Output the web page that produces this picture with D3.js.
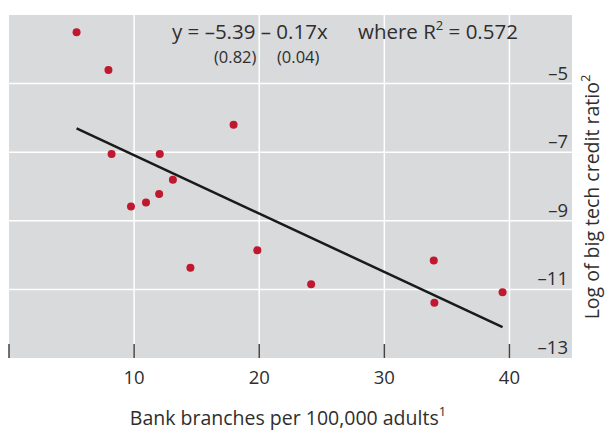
<!DOCTYPE html>
<html lang="en">

<head>
    <meta charset="UTF-8">
    <style>
        body { margin: 0; background: #fff; }
        text { font-family: "Open Sans", "Noto Sans", sans-serif; fill: #2e2e2e; }
    </style>
</head>

<body>
    <svg width="606" height="430"></svg>
    <script src="https://d3js.org/d3.v7.min.js"></script>
    <script>
        // bank branches per 100,000 adults
        let branches = [5.4, 7.95, 8.2, 12.05, 13.1, 12.0, 9.75, 10.95, 17.95, 14.5, 19.85, 24.15, 33.95, 34.0, 39.45]
        // log of big tech credit ratio
        let logRatio = [-3.5, -4.6, -7.05, -7.05, -7.8, -8.22, -8.58, -8.47, -6.2, -10.37, -9.86, -10.85, -10.16, -11.39, -11.08]
        let xTicks = [0, 10, 20, 30, 40]
        let xTickLabels = [10, 20, 30, 40]
        let yTicks = [-5, -7, -9, -11, -13]
        let intercept = -5.39, slope = -0.17
        let lineEnds = [5.4, 39.45]

        let data = branches.map((x, i) => ({ x: x, y: logRatio[i] }))

        let svg = d3.select("svg")
        let pLeft = 9, pRight = 572, pTop = 15, pBottom = 358

        let x = d3.scaleLinear().domain([0, 45]).range([pLeft, pRight])
        let y = d3.scaleLinear().domain([-13, -3]).range([pBottom, pTop])
        let minus = v => String(v).replace("-", "\u2013")

        svg.append("rect")
            .attr("x", pLeft).attr("y", pTop)
            .attr("width", pRight - pLeft).attr("height", pBottom - pTop)
            .attr("fill", "#d9dadc")

        // grid
        svg.selectAll(".vgrid")
            .data(xTickLabels).enter()
            .append("line")
            .attr("x1", d => x(d)).attr("x2", d => x(d))
            .attr("y1", pTop).attr("y2", pBottom)
            .attr("stroke", "#fff").attr("stroke-width", 1.5)

        svg.selectAll(".hgrid")
            .data(yTicks.filter(d => d > -13)).enter()
            .append("line")
            .attr("x1", pLeft).attr("x2", pRight)
            .attr("y1", d => y(d)).attr("y2", d => y(d))
            .attr("stroke", "#fff").attr("stroke-width", 1.5)

        // bottom ticks, pointing up into the plot
        svg.selectAll(".xtick")
            .data(xTicks).enter()
            .append("line")
            .attr("x1", d => x(d)).attr("x2", d => x(d))
            .attr("y1", pBottom - 14).attr("y2", pBottom)
            .attr("stroke", "#444").attr("stroke-width", 1.5)

        svg.selectAll(".xlabel")
            .data(xTickLabels).enter()
            .append("text")
            .attr("x", d => x(d)).attr("y", 384)
            .attr("text-anchor", "middle")
            .attr("font-size", 18.5)
            .text(d => d)

        svg.selectAll(".ylabel")
            .data(yTicks).enter()
            .append("text")
            .attr("x", 568).attr("y", d => y(d) - 4)
            .attr("text-anchor", "end")
            .attr("font-size", 18.5)
            .text(d => minus(d))

        // regression line
        let linefn = d3.line()
            .x(d => x(d))
            .y(d => y(intercept + slope * d))
        svg.append("path")
            .attr("d", linefn(lineEnds))
            .attr("fill", "none")
            .attr("stroke", "#1a1a1a")
            .attr("stroke-width", 2.5)

        svg.selectAll("circle")
            .data(data).enter()
            .append("circle")
            .attr("cx", d => x(d.x))
            .attr("cy", d => y(d.y))
            .attr("r", 4)
            .attr("fill", "#c0182f")

        // equation
        svg.append("text")
            .attr("x", 172).attr("y", 39)
            .attr("font-size", 20.5)
            .text("y = \u20135.39 \u2013 0.17x")
        let w = svg.append("text")
            .attr("x", 358).attr("y", 39)
            .attr("font-size", 20.5)
        w.append("tspan").text("where R")
        w.append("tspan").attr("font-size", 13).attr("dy", -9).text("2")
        w.append("tspan").attr("dy", 9).text(" = 0.572")

        svg.append("text")
            .attr("x", 214).attr("y", 63)
            .attr("font-size", 16.5)
            .text("(0.82)")
        svg.append("text")
            .attr("x", 277).attr("y", 63)
            .attr("font-size", 16.5)
            .text("(0.04)")

        // axis titles
        let xt = svg.append("text")
            .attr("x", 288).attr("y", 425)
            .attr("text-anchor", "middle")
            .attr("font-size", 19.5)
        xt.append("tspan").text("Bank branches per 100,000 adults")
        xt.append("tspan").attr("font-size", 13).attr("dy", -9).text("1")

        let yt = svg.append("text")
            .attr("transform", "translate(599,197) rotate(-90)")
            .attr("text-anchor", "middle")
            .attr("font-size", 19.5)
        yt.append("tspan").text("Log of big tech credit ratio")
        yt.append("tspan").attr("font-size", 13).attr("dy", -9).text("2")
    </script>
</body>

</html>
